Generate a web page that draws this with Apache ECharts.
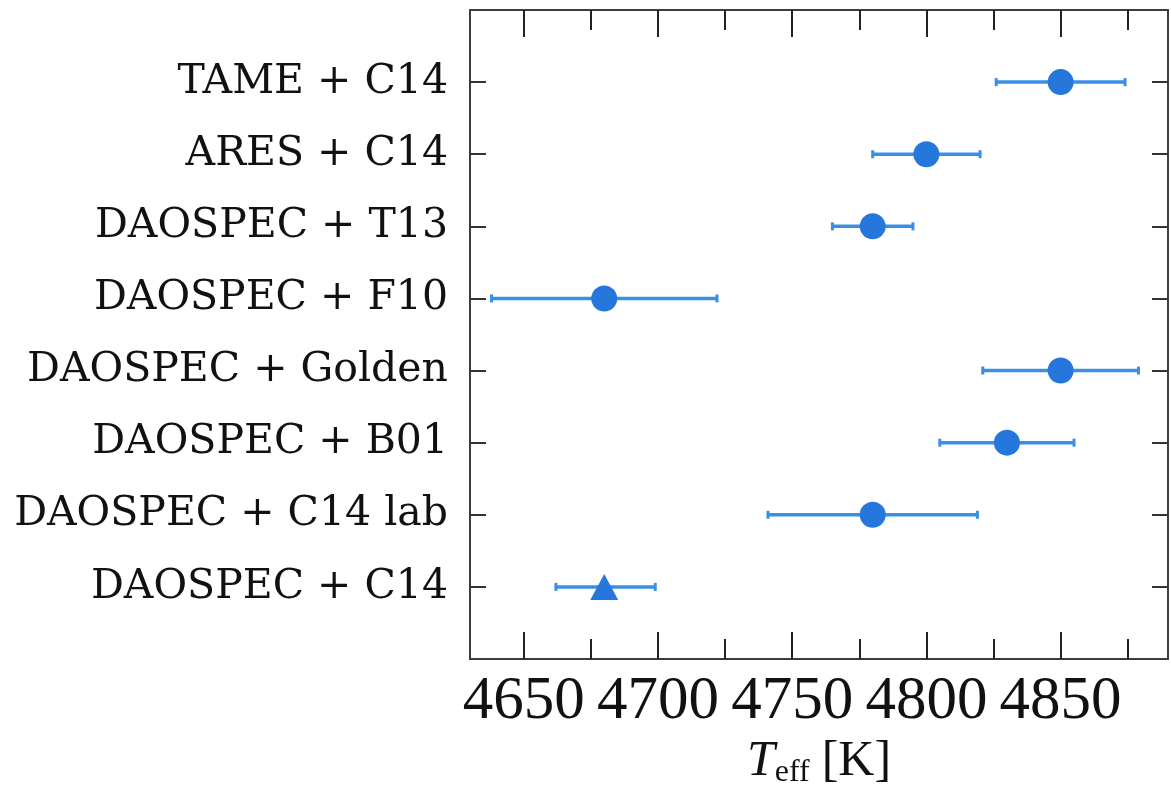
<!DOCTYPE html>
<html><head><meta charset="utf-8">
<script src="https://cdn.jsdelivr.net/npm/echarts@6/dist/echarts.min.js"></script>
<style>html,body{margin:0;padding:0;background:#fff}#c{width:1171px;height:787px}</style>
</head><body><div id="c"></div>
<script>
// Categories listed bottom (y=1) to top (y=8)
const categories = ['DAOSPEC + C14', 'DAOSPEC + C14 lab', 'DAOSPEC + B01', 'DAOSPEC + Golden',
                    'DAOSPEC + F10', 'DAOSPEC + T13', 'ARES + C14', 'TAME + C14'];
const teff    = [4680, 4780, 4830, 4850, 4680, 4780, 4800, 4850];
const errLow  = [18, 39, 25, 29, 42, 15, 20, 24];
const errHigh = [19, 39, 25, 29, 42, 15, 20, 24];
const markers = ['triangle', 'circle', 'circle', 'circle', 'circle', 'circle', 'circle', 'circle'];
const majorTicks = [4650, 4700, 4750, 4800, 4850];
const minorTicks = [4675, 4725, 4775, 4825, 4875];
const catTicks = [1, 2, 3, 4, 5, 6, 7, 8];

const X_MIN = 4630, X_MAX = 4890;
const dotColor = '#2677dc';
const barColor = '#3a8fe2';
const axisColor = '#3c3c3c';

const scatterData = teff.map((v, i) => ({
  value: [v, i + 1],
  symbol: markers[i],
  symbolSize: markers[i] === 'triangle' ? [28, 26] : 26
}));
const errData = teff.map((v, i) => [v - errLow[i], v + errHigh[i], i + 1]);

function xAxisDef(pos, ticks, len, withLine, withLabel) {
  return {
    type: 'value', position: pos, min: X_MIN, max: X_MAX,
    axisLine: { show: withLine, onZero: false, lineStyle: { color: axisColor, width: 2 } },
    axisTick: { show: true, inside: true, length: len, customValues: ticks,
                lineStyle: { color: '#222', width: 2 } },
    axisLabel: withLabel ? { show: true, customValues: ticks, formatter: v => String(v),
                fontFamily: 'Liberation Serif', fontSize: 61, color: '#111', margin: 12 } : { show: false },
    splitLine: { show: false }
  };
}

const xAxes = [
  xAxisDef('bottom', majorTicks, 27, true, true),
  xAxisDef('bottom', minorTicks, 20, false, false),
  xAxisDef('top', majorTicks, 27, true, false),
  xAxisDef('top', minorTicks, 20, false, false)
];
xAxes[0].name = '{t|T}{s|eff}{k|[K]}';
xAxes[0].nameLocation = 'middle';
xAxes[0].nameGap = 70;
xAxes[0].nameTextStyle = {
  rich: {
    t: { fontFamily: 'Liberation Serif', fontStyle: 'italic', fontSize: 50, color: '#111' },
    s: { fontFamily: 'Liberation Serif', fontSize: 32, color: '#111', padding: [22, 12, 0, 0] },
    k: { fontFamily: 'Liberation Serif', fontSize: 50, color: '#111' }
  }
};

function yAxisDef(pos, withLabel) {
  return {
    type: 'value', position: pos, min: 0, max: 9,
    axisLine: { show: true, onZero: false, lineStyle: { color: axisColor, width: 2 } },
    axisTick: { show: true, inside: true, length: 16, customValues: catTicks,
                lineStyle: { color: '#333', width: 2 } },
    axisLabel: withLabel ? { show: true, customValues: catTicks,
                formatter: v => categories[v - 1] || '',
                fontFamily: 'DejaVu Serif', fontSize: 41, color: '#111', margin: 22 } : { show: false },
    splitLine: { show: false }
  };
}

const chart = echarts.init(document.getElementById('c'), null, { renderer: 'canvas' });
chart.setOption({
  backgroundColor: '#fff',
  animation: false,
  grid: { left: 470, right: 3, top: 10, bottom: 128, containLabel: false, outerBoundsMode: 'none' },
  xAxis: xAxes,
  yAxis: [yAxisDef('left', true), yAxisDef('right', false)],
  series: [
    {
      type: 'custom', xAxisIndex: 0, yAxisIndex: 0, z: 2,
      encode: { x: [0, 1], y: 2 },
      data: errData,
      renderItem: function (params, api) {
        const y = api.value(2);
        const p1 = api.coord([api.value(0), y]);
        const p2 = api.coord([api.value(1), y]);
        const cap = 4;
        const st = { stroke: barColor, lineWidth: 3.5 };
        const cs = { stroke: barColor, lineWidth: 3 };
        return {
          type: 'group',
          children: [
            { type: 'line', shape: { x1: p1[0], y1: p1[1], x2: p2[0], y2: p2[1] }, style: st },
            { type: 'line', shape: { x1: p1[0], y1: p1[1] - cap, x2: p1[0], y2: p1[1] + cap }, style: cs },
            { type: 'line', shape: { x1: p2[0], y1: p2[1] - cap, x2: p2[0], y2: p2[1] + cap }, style: cs }
          ]
        };
      }
    },
    {
      type: 'scatter', xAxisIndex: 0, yAxisIndex: 0, z: 3,
      itemStyle: { color: dotColor, opacity: 1 },
      data: scatterData
    }
  ]
});
</script>
</body></html>
